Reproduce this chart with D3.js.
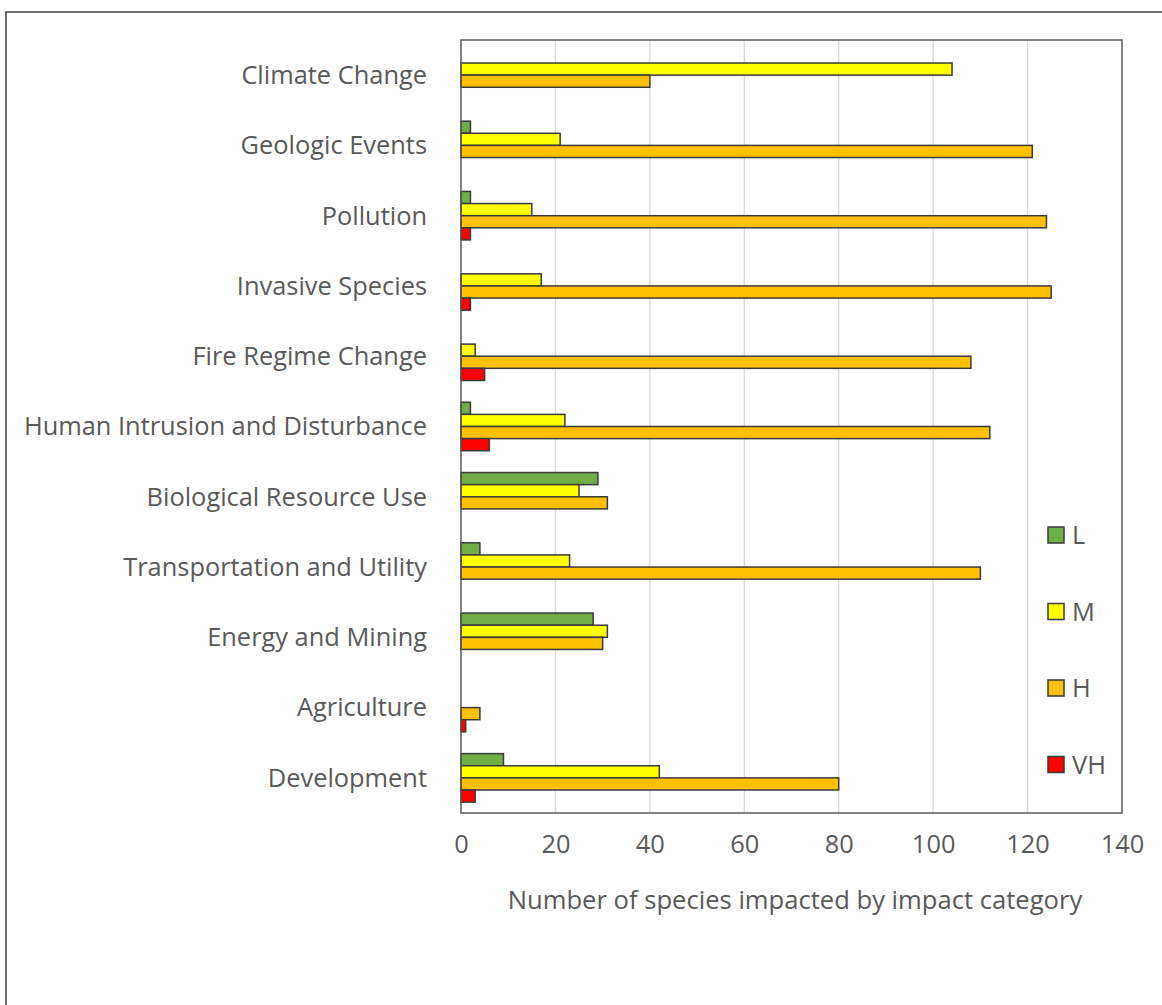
<!DOCTYPE html>
<html>
<head>
<meta charset="utf-8">
<script src="https://cdn.jsdelivr.net/npm/d3@7"></script>
<style>
  body { margin: 0; background: #fff; }
  text { font-family: "Open Sans", sans-serif; fill: #595959; }
</style>
</head>
<body>
<script>
// threat categories, top to bottom
var categories = ["Climate Change", "Geologic Events", "Pollution", "Invasive Species",
  "Fire Regime Change", "Human Intrusion and Disturbance", "Biological Resource Use",
  "Transportation and Utility", "Energy and Mining", "Agriculture", "Development"];

var seriesNames = ["L", "M", "H", "VH"];

// number of species per impact level
var lowValues      = [0, 2, 2, 0, 0, 2, 29, 4, 28, 0, 9];
var mediumValues   = [104, 21, 15, 17, 3, 22, 25, 23, 31, 0, 42];
var highValues     = [40, 121, 124, 125, 108, 112, 31, 110, 30, 4, 80];
var veryHighValues = [0, 0, 2, 2, 5, 6, 0, 0, 0, 1, 3];

var xTicks = [0, 20, 40, 60, 80, 100, 120, 140];
var colors = ["#70ad47", "#ffff00", "#ffc000", "#ff0000"];

var allSeries = [lowValues, mediumValues, highValues, veryHighValues];

var width = 1162, height = 1005;
var plot = {left: 461, right: 1122, top: 40, bottom: 813};

var svg = d3.select("body").append("svg")
    .attr("width", width)
    .attr("height", height);

// outer frame
svg.append("rect")
    .attr("x", 6).attr("y", 12)
    .attr("width", 1170).attr("height", 1010)
    .attr("fill", "none")
    .attr("stroke", "#404040")
    .attr("stroke-width", 1.5);

var xScale = d3.scaleLinear()
    .domain([0, 140])
    .range([plot.left, plot.right]);

var yScale = d3.scaleBand()
    .domain(categories)
    .range([plot.top, plot.bottom])
    .paddingInner(0.31)
    .paddingOuter(0.155);

var inner = d3.scaleBand()
    .domain(seriesNames)
    .range([0, yScale.bandwidth()]);

// gridlines
svg.append("g").selectAll("line")
    .data(xTicks.slice(1, -1))
    .enter().append("line")
    .attr("x1", function(d) { return xScale(d); })
    .attr("x2", function(d) { return xScale(d); })
    .attr("y1", plot.top)
    .attr("y2", plot.bottom)
    .attr("stroke", "#d9d9d9")
    .attr("stroke-width", 1.3);

// bars, one record per non-zero value
var bars = [];
seriesNames.forEach(function(name, s) {
  allSeries[s].forEach(function(v, i) {
    if (v > 0) bars.push({cat: categories[i], series: name, color: colors[s], value: v});
  });
});

svg.append("g").selectAll("rect")
    .data(bars)
    .enter().append("rect")
    .attr("x", xScale(0))
    .attr("y", function(d) { return yScale(d.cat) + inner(d.series); })
    .attr("width", function(d) { return xScale(d.value) - xScale(0); })
    .attr("height", inner.bandwidth())
    .attr("fill", function(d) { return d.color; })
    .attr("stroke", "#3a3a3a")
    .attr("stroke-width", 1.5);

// plot border
svg.append("rect")
    .attr("x", plot.left).attr("y", plot.top)
    .attr("width", plot.right - plot.left)
    .attr("height", plot.bottom - plot.top)
    .attr("fill", "none")
    .attr("stroke", "#595959")
    .attr("stroke-width", 1.5);

// category labels
svg.append("g").selectAll("text")
    .data(categories)
    .enter().append("text")
    .attr("x", 427)
    .attr("y", function(d) { return yScale(d) + yScale.bandwidth() / 2; })
    .attr("dy", "0.35em")
    .attr("text-anchor", "end")
    .style("font-size", "25.4px")
    .text(function(d) { return d; });

// x tick labels
var xAxis = d3.axisBottom(xScale).tickValues(xTicks).tickSize(0).tickPadding(22);
var gx = svg.append("g")
    .attr("transform", "translate(0," + plot.bottom + ")")
    .call(xAxis);
gx.select(".domain").remove();
gx.selectAll("text")
    .style("font-size", "25.4px")
    .style("font-family", "'Open Sans', sans-serif")
    .attr("fill", "#595959");

svg.append("text")
    .attr("x", 795)
    .attr("y", 909)
    .attr("text-anchor", "middle")
    .style("font-size", "25.6px")
    .text("Number of species impacted by impact category");

// legend
var legend = svg.append("g").selectAll("g")
    .data(seriesNames)
    .enter().append("g")
    .attr("transform", function(d, i) { return "translate(1048," + (535 + i * 76.5) + ")"; });

legend.append("rect")
    .attr("x", 0).attr("y", -8)
    .attr("width", 16).attr("height", 16)
    .attr("fill", function(d, i) { return colors[i]; })
    .attr("stroke", "#3a3a3a")
    .attr("stroke-width", 1.5);

legend.append("text")
    .attr("x", 24)
    .attr("dy", "0.36em")
    .style("font-size", "25.4px")
    .text(function(d) { return d; });
</script>
</body>
</html>
